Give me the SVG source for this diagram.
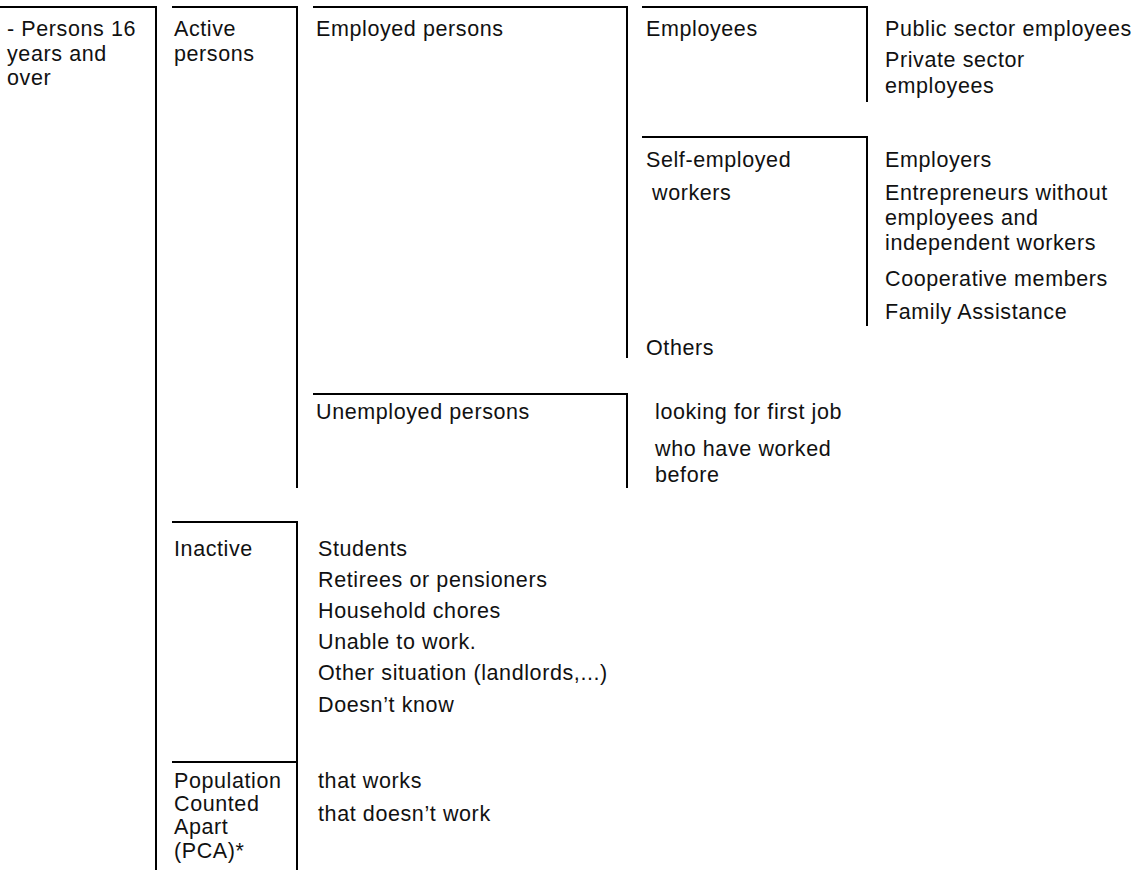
<svg xmlns="http://www.w3.org/2000/svg" width="1144" height="870" viewBox="0 0 1144 870">
<style>
.b{fill:none;stroke:#000;stroke-width:2}
text{font-family:"Liberation Sans",Arial,sans-serif;font-size:21.5px;letter-spacing:0.6px;fill:#111}
</style>
<rect width="1144" height="870" fill="#fff"/>
<g id="connectors"></g>
<g id="persons16">
<path class="b" d="M0 7H156V870"/>
<text x="7" y="36">- Persons 16</text>
<text x="7" y="61">years and</text>
<text x="7" y="85">over</text>
</g>
<g id="active">
<path class="b" d="M172 7H297V488"/>
<text x="174" y="36">Active</text>
<text x="174" y="61">persons</text>
</g>
<g id="employed">
<path class="b" d="M313 7H627V358"/>
<text x="316" y="36">Employed persons</text>
</g>
<g id="employees">
<path class="b" d="M642 7H867V102"/>
<text x="646" y="36">Employees</text>
</g>
<g id="employees-list">
<text x="885" y="36">Public sector employees</text>
<text x="885" y="67">Private sector</text>
<text x="885" y="93">employees</text>
</g>
<g id="selfemployed">
<path class="b" d="M642 137H867V326"/>
<text x="646" y="167">Self-employed</text>
<text x="652" y="200">workers</text>
</g>
<g id="selfemployed-list">
<text x="885" y="167">Employers</text>
<text x="885" y="200">Entrepreneurs without</text>
<text x="885" y="225">employees and</text>
<text x="885" y="250">independent workers</text>
<text x="885" y="286">Cooperative members</text>
<text x="885" y="319">Family Assistance</text>
</g>
<g id="others">
<text x="646" y="355">Others</text>
</g>
<g id="unemployed">
<path class="b" d="M313 394H627V488"/>
<text x="316" y="419">Unemployed persons</text>
</g>
<g id="unemployed-list">
<text x="655" y="419">looking for first job</text>
<text x="655" y="456">who have worked</text>
<text x="655" y="482">before</text>
</g>
<g id="inactive">
<path class="b" d="M172 522H297V780"/>
<text x="174" y="556">Inactive</text>
</g>
<g id="inactive-list">
<text x="318" y="556">Students</text>
<text x="318" y="587">Retirees or pensioners</text>
<text x="318" y="618">Household chores</text>
<text x="318" y="649">Unable to work.</text>
<text x="318" y="680">Other situation (landlords,...)</text>
<text x="318" y="712">Doesn’t know</text>
</g>
<g id="pca">
<path class="b" d="M172 762H297V870"/>
<text x="174" y="788">Population</text>
<text x="174" y="811">Counted</text>
<text x="174" y="834">Apart</text>
<text x="174" y="858">(PCA)*</text>
</g>
<g id="pca-list">
<text x="318" y="788">that works</text>
<text x="318" y="821">that doesn’t work</text>
</g>
</svg>
